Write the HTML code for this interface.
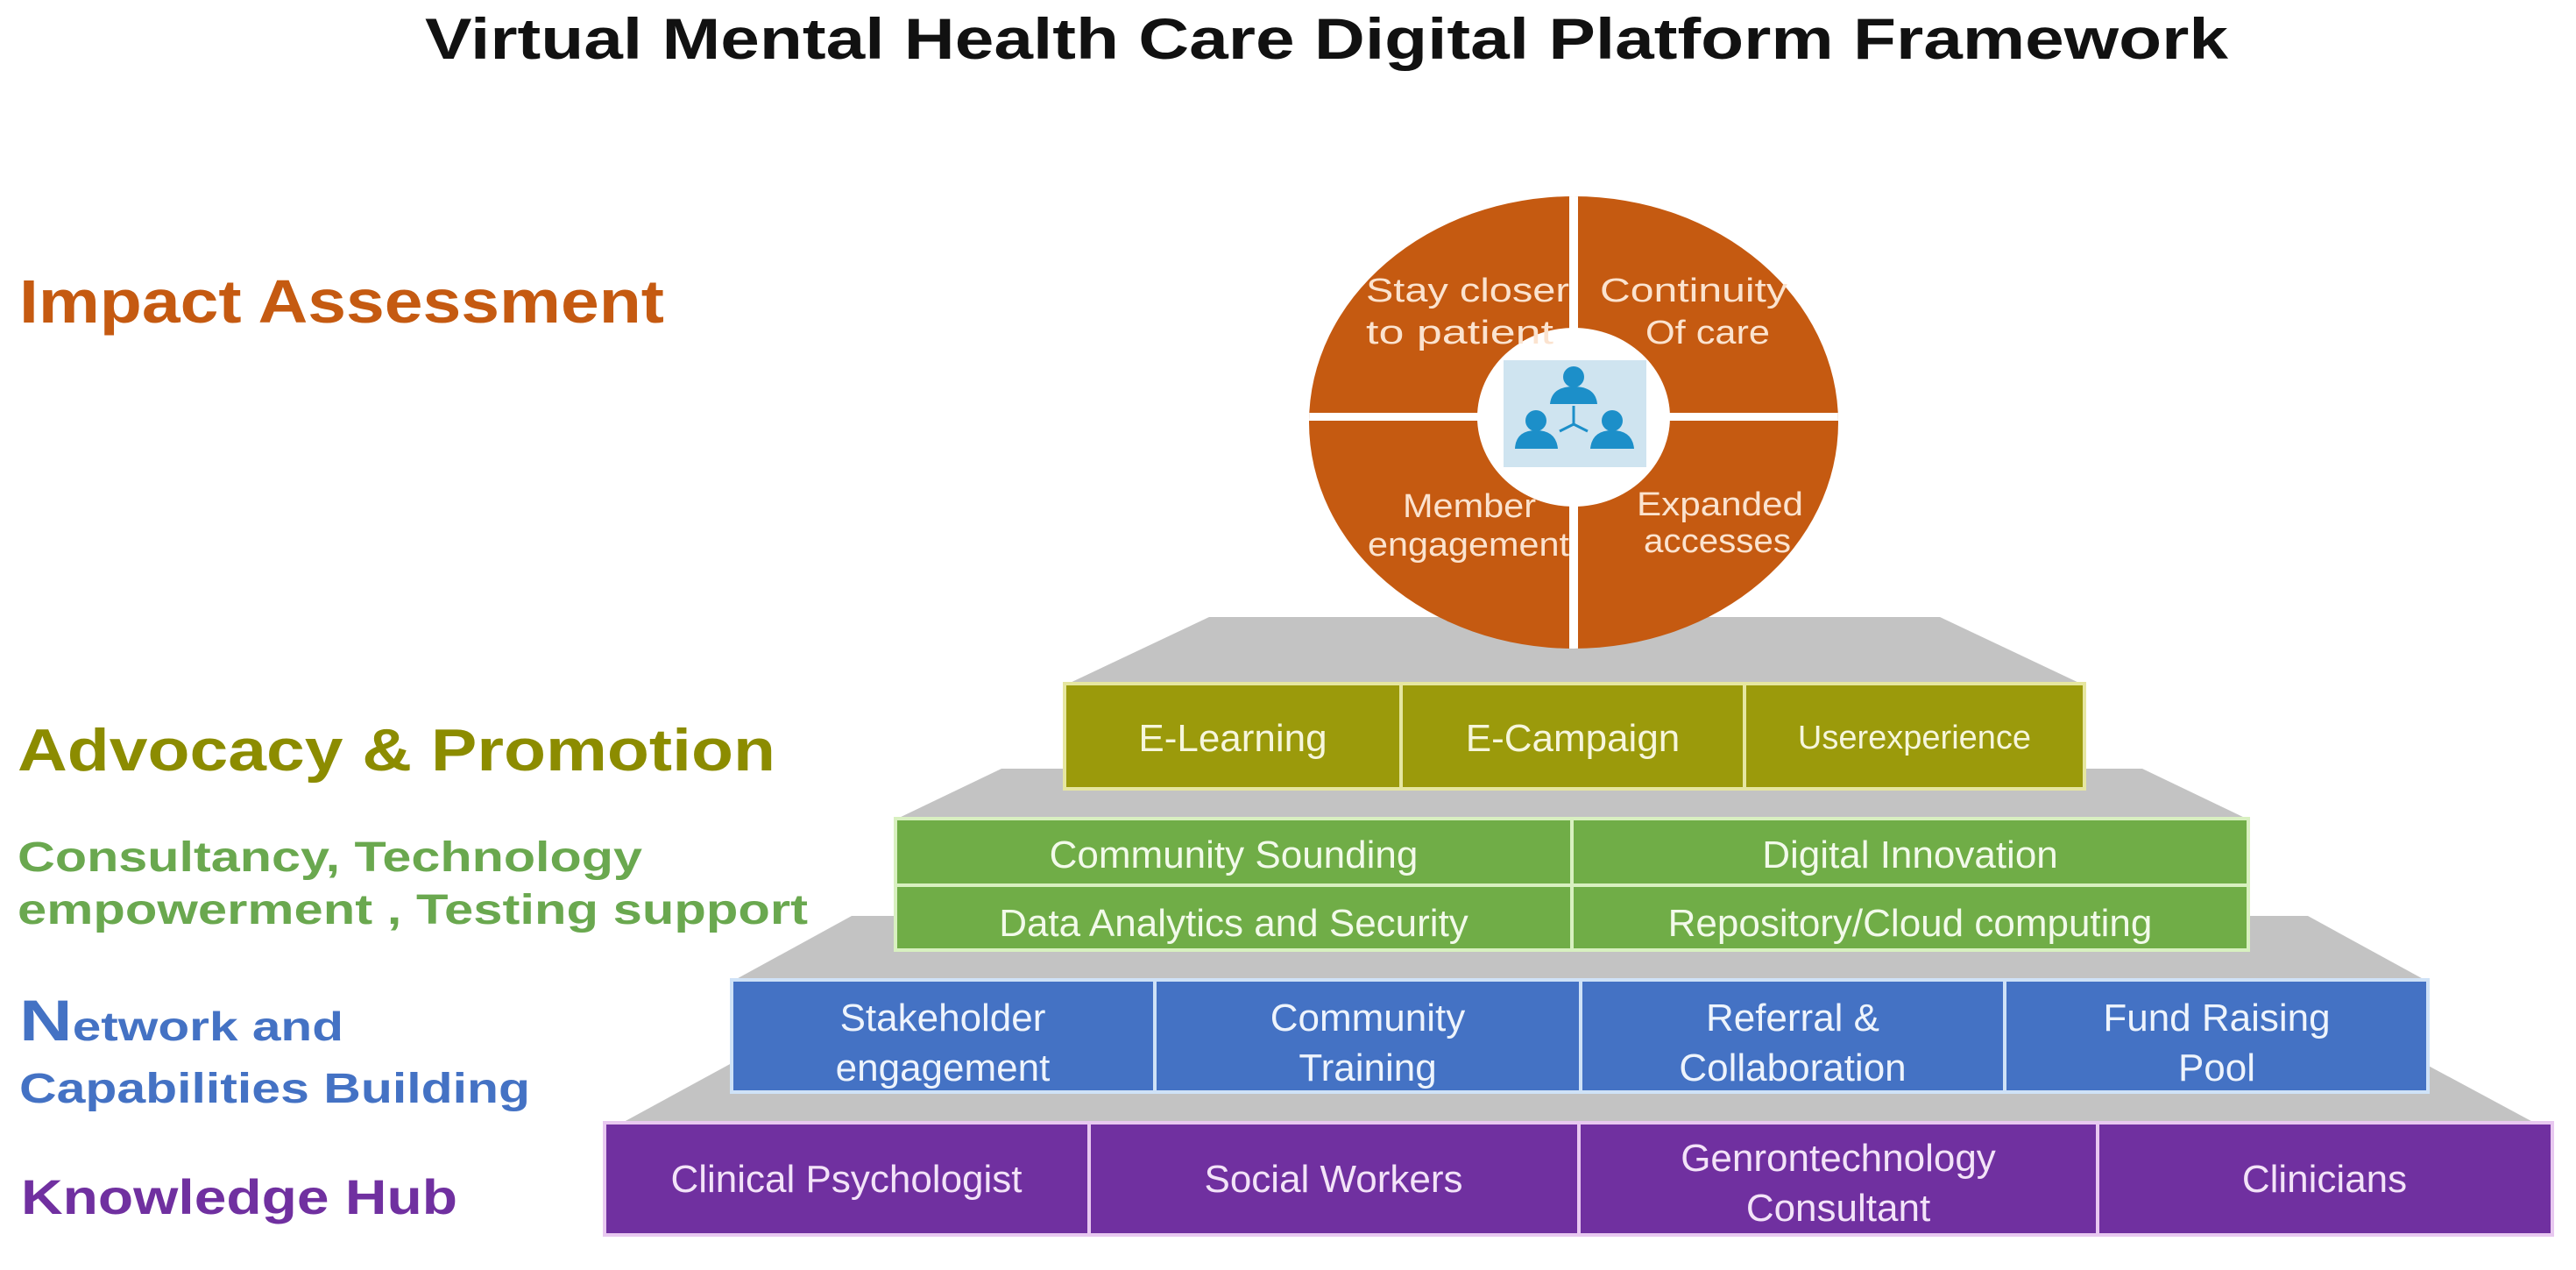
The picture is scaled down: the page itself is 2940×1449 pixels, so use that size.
<!DOCTYPE html>
<html><head><meta charset="utf-8"><style>
html,body{margin:0;padding:0;background:#fff;}
svg{display:block;}
text{font-family:"Liberation Sans",Arial,sans-serif;}
</style></head><body>
<svg width="2940" height="1449" viewBox="0 0 2940 1449" xmlns="http://www.w3.org/2000/svg">
<defs><clipPath id="cc"><ellipse cx="1796" cy="482" rx="302" ry="258"/></clipPath></defs>
<rect width="2940" height="1449" fill="#fff"/>
<text x="485" y="67" font-size="66" font-weight="bold" fill="#111" textLength="2058" lengthAdjust="spacingAndGlyphs">Virtual Mental Health Care Digital Platform Framework</text>

<text x="22" y="368" font-size="70" font-weight="bold" fill="#c55a11" textLength="736" lengthAdjust="spacingAndGlyphs">Impact Assessment</text>
<text x="20" y="879" font-size="68" font-weight="bold" fill="#8c8c00" textLength="865" lengthAdjust="spacingAndGlyphs">Advocacy &amp; Promotion</text>
<text x="20" y="994" font-size="48" font-weight="bold" fill="#6aa84f" textLength="713" lengthAdjust="spacingAndGlyphs">Consultancy, Technology</text>
<text x="20" y="1054" font-size="48" font-weight="bold" fill="#6aa84f" textLength="902" lengthAdjust="spacingAndGlyphs">empowerment , Testing support</text>
<text x="22" y="1187" font-size="46" font-weight="bold" fill="#4472c4" textLength="370" lengthAdjust="spacingAndGlyphs"><tspan font-size="66">N</tspan>etwork and</text>
<text x="22" y="1258" font-size="48" font-weight="bold" fill="#4472c4" textLength="583" lengthAdjust="spacingAndGlyphs">Capabilities Building</text>
<text x="24" y="1385" font-size="56" font-weight="bold" fill="#7030a0" textLength="498" lengthAdjust="spacingAndGlyphs">Knowledge Hub</text>

<polygon points="690,1292 835,1213 2766,1213 2913,1292" fill="#c3c3c3"/>
<polygon points="835,1120 972,1045 2634,1045 2771,1120" fill="#c3c3c3"/>
<polygon points="1022,935 1143,877 2445,877 2566,935" fill="#c3c3c3"/>
<polygon points="1215,782 1380,704 2214,704 2379,782" fill="#c3c3c3"/>

<g stroke="#e8c8f0" stroke-width="4">
<rect x="690" y="1281" width="2223" height="128" fill="#7030a0"/>
<line x1="1243" y1="1281" x2="1243" y2="1409"/>
<line x1="1802" y1="1281" x2="1802" y2="1409"/>
<line x1="2394" y1="1281" x2="2394" y2="1409"/>
</g>
<g fill="#f3e3f8" font-size="44" text-anchor="middle">
<text x="966" y="1360">Clinical Psychologist</text>
<text x="1522" y="1360">Social Workers</text>
<text x="2098" y="1336">Genrontechnology</text>
<text x="2098" y="1393">Consultant</text>
<text x="2653" y="1360">Clinicians</text>
</g>

<g stroke="#cfe2f7" stroke-width="4">
<rect x="835" y="1118" width="1936" height="128" fill="#4472c4"/>
<line x1="1318" y1="1118" x2="1318" y2="1246"/>
<line x1="1804" y1="1118" x2="1804" y2="1246"/>
<line x1="2288" y1="1118" x2="2288" y2="1246"/>
</g>
<g fill="#eef4fc" font-size="44" text-anchor="middle">
<text x="1076" y="1176">Stakeholder</text>
<text x="1076" y="1233">engagement</text>
<text x="1561" y="1176">Community</text>
<text x="1561" y="1233">Training</text>
<text x="2046" y="1176">Referral &amp;</text>
<text x="2046" y="1233">Collaboration</text>
<text x="2530" y="1176">Fund Raising</text>
<text x="2530" y="1233">Pool</text>
</g>

<g stroke="#d8f0c0" stroke-width="4">
<rect x="1022" y="934" width="1544" height="150" fill="#70ad47"/>
<line x1="1022" y1="1010" x2="2566" y2="1010"/>
<line x1="1794" y1="934" x2="1794" y2="1084"/>
</g>
<g fill="#f2faea" font-size="44" text-anchor="middle">
<text x="1408" y="990">Community  Sounding</text>
<text x="2180" y="990">Digital Innovation</text>
<text x="1408" y="1068">Data Analytics and Security</text>
<text x="2180" y="1068">Repository/Cloud  computing</text>
</g>

<g stroke="#e6e6a0" stroke-width="4">
<rect x="1215" y="780" width="1164" height="120" fill="#9b9a0b"/>
<line x1="1599" y1="780" x2="1599" y2="900"/>
<line x1="1991" y1="780" x2="1991" y2="900"/>
</g>
<g fill="#f6f6dc" text-anchor="middle">
<text x="1407" y="857" font-size="44">E-Learning</text>
<text x="1795" y="857" font-size="44">E-Campaign</text>
<text x="2185" y="854" font-size="38">Userexperience</text>
</g>

<ellipse cx="1796" cy="482" rx="302" ry="258" fill="#c55a11"/>
<g clip-path="url(#cc)">
<rect x="1791" y="200" width="10" height="560" fill="#fff"/>
<rect x="1480" y="471" width="640" height="9" fill="#fff"/>
</g>
<ellipse cx="1796" cy="476" rx="110" ry="102" fill="#fff"/>
<rect x="1716" y="411" width="163" height="122" fill="#cfe4f0"/>
<g fill="#1c8fc9">
<circle cx="1796" cy="430" r="12"/>
<path d="M1769,461 Q1771,441 1796,441 Q1821,441 1823,461 Z"/>
<circle cx="1753" cy="480" r="12"/>
<path d="M1729,512 Q1730,491 1753,491 Q1776,491 1778,512 Z"/>
<circle cx="1840" cy="480" r="12"/>
<path d="M1815,512 Q1817,491 1840,491 Q1863,491 1865,512 Z"/>
</g>
<g stroke="#1c8fc9" stroke-width="3" fill="none">
<line x1="1796" y1="463" x2="1796" y2="484"/>
<line x1="1796" y1="484" x2="1780" y2="492"/>
<line x1="1796" y1="484" x2="1812" y2="492"/>
</g>
<g fill="#fbe3cf" font-size="38">
<text x="1559" y="344" textLength="232" lengthAdjust="spacingAndGlyphs">Stay closer</text>
<text x="1559" y="392" textLength="214" lengthAdjust="spacingAndGlyphs">to patient</text>
<text x="1826" y="344" textLength="214" lengthAdjust="spacingAndGlyphs">Continuity</text>
<text x="1878" y="392" textLength="142" lengthAdjust="spacingAndGlyphs">Of care</text>
<text x="1601" y="590" textLength="152" lengthAdjust="spacingAndGlyphs">Member</text>
<text x="1561" y="634" textLength="230" lengthAdjust="spacingAndGlyphs">engagement</text>
<text x="1868" y="588" textLength="190" lengthAdjust="spacingAndGlyphs">Expanded</text>
<text x="1876" y="630" textLength="168" lengthAdjust="spacingAndGlyphs">accesses</text>
</g>
</svg>
</body></html>
